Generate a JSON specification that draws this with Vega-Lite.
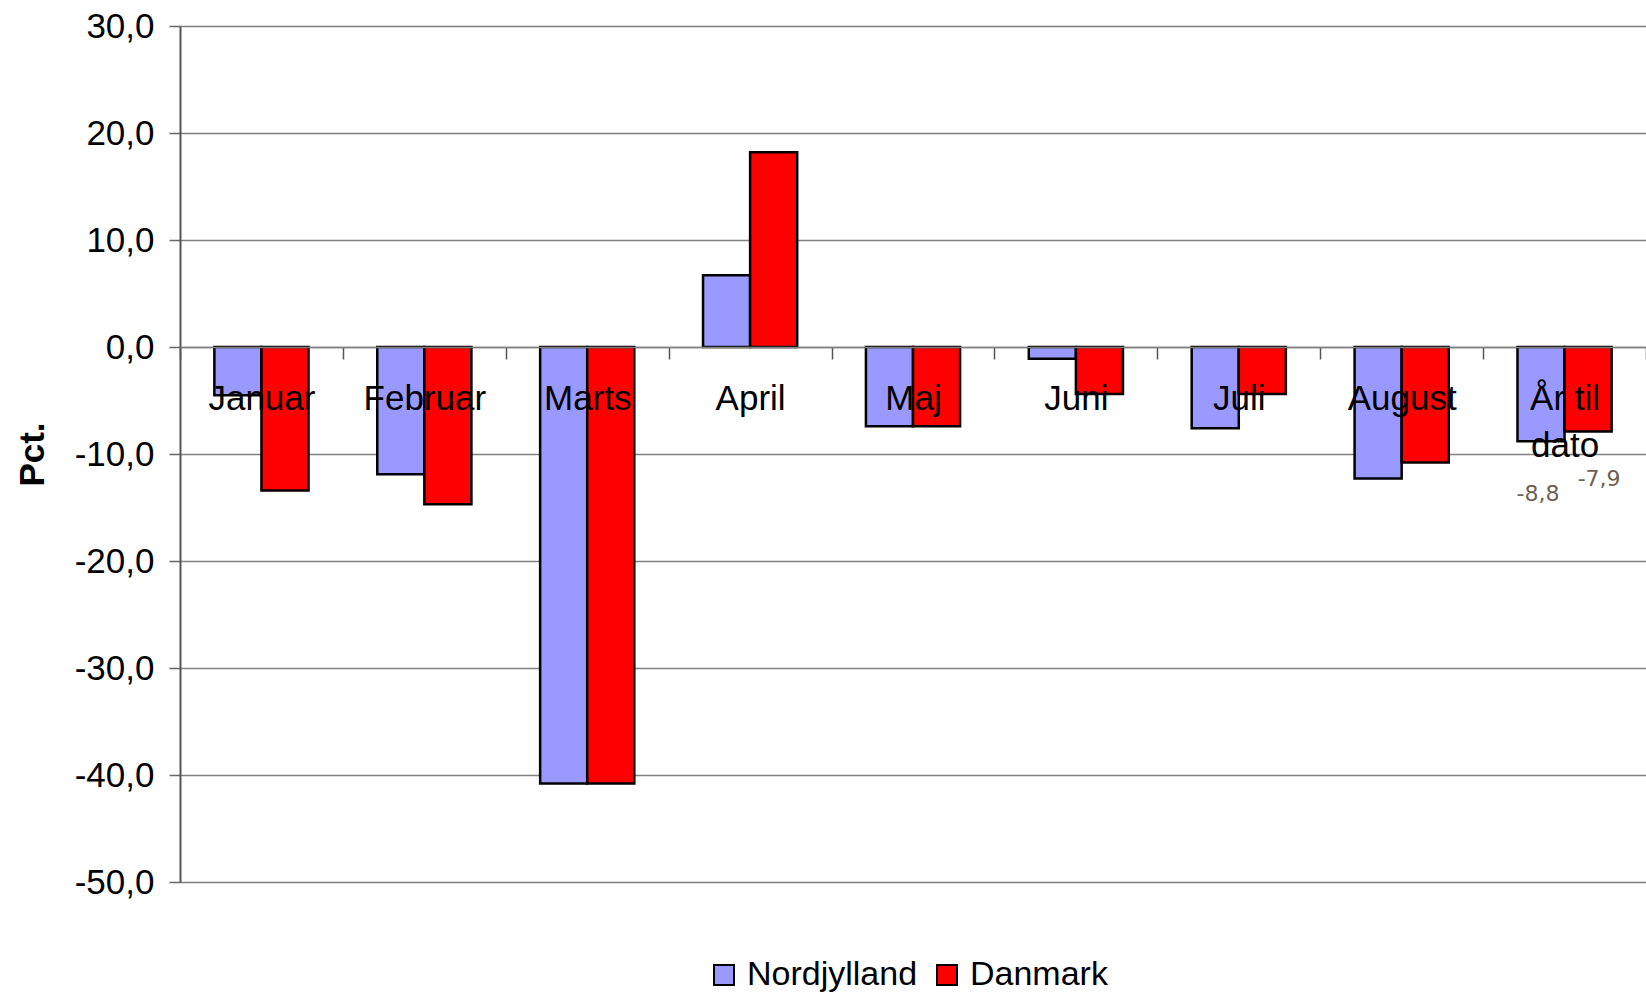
{
  "$schema": "https://vega.github.io/schema/vega-lite/v6.json",
  "width": 1466,
  "height": 856,
  "autosize": {"type": "none"},
  "padding": {"left": 180, "top": 26, "right": 0, "bottom": 112},
  "background": "white",
  "config": {
    "view": {"stroke": null},
    "font": "Liberation Sans",
    "locale": {"number": {"decimal": ",", "thousands": ".", "grouping": [3], "currency": ["", " kr."], "minus": "-"}}
  },
  "data": {
    "values": [
      {"month": "Januar", "series": "Nordjylland", "value": -4.5},
      {"month": "Januar", "series": "Danmark", "value": -13.4},
      {"month": "Februar", "series": "Nordjylland", "value": -11.9},
      {"month": "Februar", "series": "Danmark", "value": -14.7},
      {"month": "Marts", "series": "Nordjylland", "value": -40.8},
      {"month": "Marts", "series": "Danmark", "value": -40.8},
      {"month": "April", "series": "Nordjylland", "value": 6.7},
      {"month": "April", "series": "Danmark", "value": 18.2},
      {"month": "Maj", "series": "Nordjylland", "value": -7.4},
      {"month": "Maj", "series": "Danmark", "value": -7.4},
      {"month": "Juni", "series": "Nordjylland", "value": -1.1},
      {"month": "Juni", "series": "Danmark", "value": -4.4},
      {"month": "Juli", "series": "Nordjylland", "value": -7.6},
      {"month": "Juli", "series": "Danmark", "value": -4.4},
      {"month": "August", "series": "Nordjylland", "value": -12.3},
      {"month": "August", "series": "Danmark", "value": -10.8},
      {"month": "År til dato", "series": "Nordjylland", "value": -8.8},
      {"month": "År til dato", "series": "Danmark", "value": -7.9}
    ]
  },
  "encoding": {
    "x": {
      "field": "month", "type": "nominal", "sort": null,
      "scale": {"paddingInner": 0, "paddingOuter": 0},
      "axis": {
        "orient": "bottom", "offset": -535, "title": null, "zindex": 1,
        "domainColor": "#808080", "domainWidth": 1.5,
        "tickColor": "#555555", "tickSize": 12, "tickWidth": 1.5, "tickBand": "extent",
        "labelAngle": 0, "labelFontSize": 35, "labelColor": "black", "labelFont": "Liberation Sans",
        "labelPadding": 22, "labelBaseline": "top", "labelLineHeight": 47,
        "labelOverlap": false, "labelBound": false, "labelFlush": false,
        "labelExpr": "datum.label == 'År til dato' ? ['År til', 'dato'] : datum.label"
      }
    },
    "xOffset": {"field": "series", "type": "nominal", "sort": ["Nordjylland", "Danmark"], "scale": {"paddingInner": 0, "paddingOuter": 0.73}},
    "y": {
      "field": "value", "type": "quantitative",
      "scale": {"domain": [-50, 30], "nice": false, "zero": false},
      "axis": {
        "values": [-50, -40, -30, -20, -10, 0, 10, 20, 30],
        "format": ".1f", "zindex": 0,
        "grid": true, "gridColor": "#808080", "gridWidth": 1.5,
        "domainColor": "#555555", "domainWidth": 2,
        "tickColor": "#666666", "tickSize": 11, "tickWidth": 1.5,
        "labelFontSize": 35, "labelColor": "black", "labelPadding": 15,
        "title": "Pct.", "titleFontSize": 35, "titleFontWeight": "bold", "titleColor": "black",
        "titleAngle": -90, "titleX": -148, "titleY": 428, "titleAlign": "center", "titleBaseline": "middle"
      }
    }
  },
  "layer": [
    {
      "mark": {"type": "bar", "stroke": "black", "strokeWidth": 2.5},
      "encoding": {
        "color": {
          "field": "series", "type": "nominal",
          "scale": {"domain": ["Nordjylland", "Danmark"], "range": ["#9999FF", "#FF0000"]},
          "legend": {
            "title": null, "orient": "none", "direction": "horizontal",
            "legendX": 527, "legendY": 932,
            "symbolType": "square", "symbolSize": 400, "symbolStrokeColor": "black", "symbolStrokeWidth": 2,
            "symbolOpacity": 1,
            "labelFontSize": 34, "labelColor": "black", "labelOffset": 6, "columnPadding": 12,
            "labelLimit": 400
          }
        }
      }
    },
    {
      "transform": [{"filter": "datum.month == 'År til dato' && datum.series == 'Nordjylland'"}],
      "mark": {"type": "text", "font": "DejaVu Sans", "fontSize": 22, "color": "#6E6153", "dy": 53, "dx": -3, "baseline": "middle"},
      "encoding": {
        "text": {"field": "value", "type": "quantitative", "format": ".1f"}
      }
    },
    {
      "transform": [{"filter": "datum.month == 'År til dato' && datum.series == 'Danmark'"}],
      "mark": {"type": "text", "font": "DejaVu Sans", "fontSize": 22, "color": "#6E6153", "dy": 47, "dx": 11, "baseline": "middle"},
      "encoding": {
        "text": {"field": "value", "type": "quantitative", "format": ".1f"}
      }
    }
  ]
}
